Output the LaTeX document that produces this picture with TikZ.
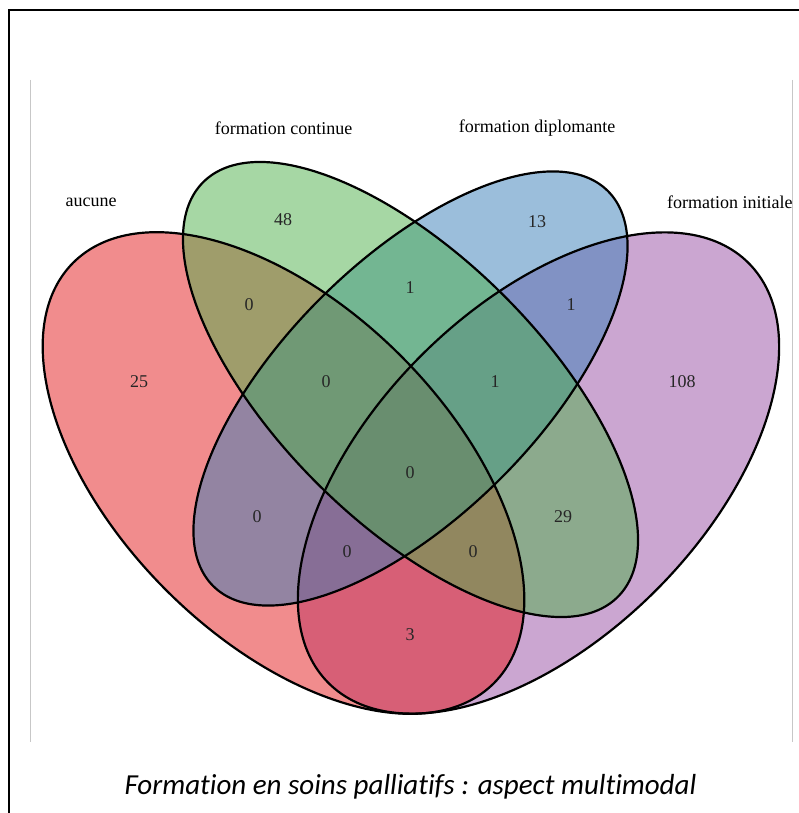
\documentclass[tikz,border=0pt]{standalone}
\usepackage{fontspec}
\setmainfont{Liberation Serif}
\newfontfamily\captionfont[Ligatures=NoCommon]{Carlito}
\usepackage{tikz}
\usetikzlibrary{positioning}

\definecolor{setred}{RGB}{228,26,28}
\definecolor{setgreen}{RGB}{77,175,74}
\definecolor{setblue}{RGB}{55,126,184}
\definecolor{setpurple}{RGB}{152,78,163}

\begin{document}
\begin{tikzpicture}[x=1pt, y=-1pt, font=\fontsize{18}{20}\selectfont]
		\tikzstyle{venn} = [fill opacity=0.5]
		
		\tikzstyle{outline} = [draw=black, line width=2.2pt]
		
		\tikzstyle{setlabel} = [inner sep=0pt, text=black]
		
		\tikzstyle{count} = [inner sep=0pt, text=black!85]
		
		\useasboundingbox (0,0) rectangle (799,813);
		
		% Frame around the figure
		\draw [line width=2.5pt] (9,813) -- (9,10) -- (799,10);
		\draw [black!22, line width=1pt] (30.5,80) -- (30.5,742);
		\draw [black!22, line width=1pt] (792,80) -- (792,742);
		
		% Centres of the four sets
		\coordinate (aucune) at (283.5,473);
		\coordinate (continue) at (410.5,389.5);
		\coordinate (diplomante) at (410.5,388.5);
		\coordinate (initiale) at (538.5,473);
		
		% Fills
		\fill [venn, setpurple, rotate around={45:(initiale)}] (initiale) ellipse [x radius=297, y radius=166];
		\fill [venn, setred, rotate around={-45:(aucune)}] (aucune) ellipse [x radius=297.4, y radius=165.8];
		\fill [venn, setblue, rotate around={45:(diplomante)}] (diplomante) ellipse [x radius=279.2, y radius=127.4];
		\fill [venn, setgreen, rotate around={-45:(continue)}] (continue) ellipse [x radius=293.2, y radius=132.4];
		
		% Outlines
		\draw [outline, rotate around={45:(initiale)}] (initiale) ellipse [x radius=297, y radius=166];
		\draw [outline, rotate around={-45:(aucune)}] (aucune) ellipse [x radius=297.4, y radius=165.8];
		\draw [outline, rotate around={45:(diplomante)}] (diplomante) ellipse [x radius=279.2, y radius=127.4];
		\draw [outline, rotate around={-45:(continue)}] (continue) ellipse [x radius=293.2, y radius=132.4];
		
		% Set names
		\node (lA) [setlabel] at (91,202) {aucune};
		\node (lB) [setlabel] at (283.5,128) {formation continue};
		\node (lC) [setlabel] at (537,128) {formation diplomante};
		\node (lD) [setlabel, anchor=west] at (667,202) {formation initiale};
		
		% Counts
		\node (nA) [count] at (139,382) {25};
		\node (nB) [count] at (283,220) {48};
		\node (nC) [count] at (537,222) {13};
		\node (nD) [count] at (682,382) {108};
		\node (nAB) [count] at (249,305) {0};
		\node (nBC) [count] at (410,288) {1};
		\node (nCD) [count] at (571,305) {1};
		\node (nABC) [count] at (326,382) {0};
		\node (nBCD) [count] at (495,382) {1};
		\node (nABCD) [count] at (410,473) {0};
		\node (nAC) [count] at (257,517) {0};
		\node (nBD) [count] at (563,517) {29};
		\node (nACD) [count] at (347,552) {0};
		\node (nABD) [count] at (473,552) {0};
		\node (nAD) [count] at (410,635) {3};
		
		% Caption
		\node (caption) at (410.5,787) {\captionfont\itshape\fontsize{29}{32}\selectfont Formation en soins palliatifs : aspect multimodal};
	\end{tikzpicture}
\end{document}
